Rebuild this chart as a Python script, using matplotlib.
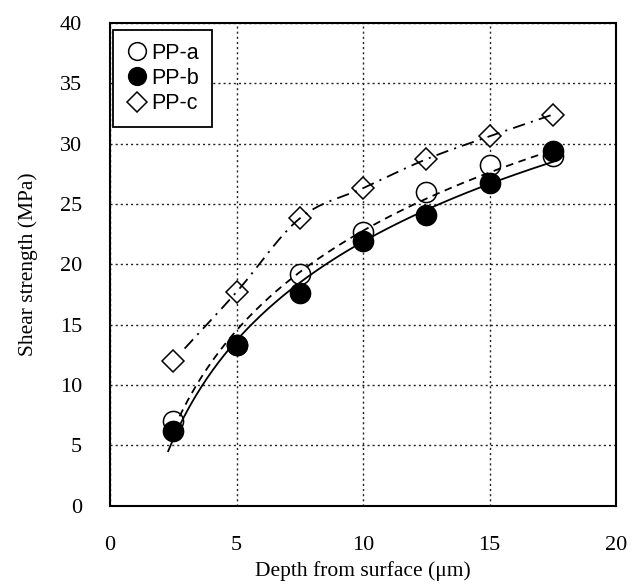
import numpy as np
import matplotlib
matplotlib.use('Agg')
import matplotlib.pyplot as plt

# depth (um) and shear strength (MPa)
depth = [2.5, 5, 7.5, 10, 12.5, 15, 17.5]
pp_a = [7.0, 13.3, 19.2, 22.7, 26.0, 28.2, 29.0]
pp_b = [6.2, 13.3, 17.6, 21.9, 24.1, 26.7, 29.4]
pp_c = [12.0, 17.7, 23.8, 26.3, 28.7, 30.6, 32.4]
names = ['PP-a', 'PP-b', 'PP-c']
fit_start = [2.75, 2.3, 2.9]

plt.rcParams['lines.scale_dashes'] = False


def smooth_line(xp, yp, n=40):
    # Catmull-Rom curve through the points (like a smoothed scatter line)
    p = np.column_stack([xp, yp]).astype(float)
    p = np.vstack([2 * p[0] - p[1], p, 2 * p[-1] - p[-2]])
    t = np.linspace(0, 1, n)[:, None]
    segs = []
    for i in range(1, len(p) - 2):
        p0, p1, p2, p3 = p[i - 1], p[i], p[i + 1], p[i + 2]
        segs.append(0.5 * (2 * p1 + (-p0 + p2) * t
                           + (2 * p0 - 5 * p1 + 4 * p2 - p3) * t ** 2
                           + (-p0 + 3 * p1 - 3 * p2 + p3) * t ** 3))
    c = np.vstack(segs)
    return c[:, 0], c[:, 1]


fig = plt.figure(figsize=(6.32, 5.84), dpi=100)
ax = fig.add_axes([0.174, 0.134, 0.801, 0.827])

serif = 'Liberation Serif'
sans = 'Liberation Sans'

styles = [
    dict(marker='o', mfc='white', ms=14.5, ls=(0, (5.5, 4))),
    dict(marker='o', mfc='black', ms=14.5, ls='-'),
    dict(marker='D', mfc='white', ms=11, ls=(0, (9, 4.5, 1.5, 4.5))),
]

x = np.array(depth)
for vals, name, st, x0 in zip([pp_a, pp_b, pp_c], names, styles, fit_start):
    y = np.array(vals)
    if name == 'PP-c':
        xs, ys = smooth_line(x, y)
        keep = xs >= x0
        xs, ys = xs[keep], ys[keep]
    else:
        # logarithmic trend
        a, b = np.polyfit(np.log(x), y, 1)
        xs = np.linspace(x0, 17.5, 200)
        ys = a * np.log(xs) + b
    ax.plot(xs, ys, color='black', lw=1.3, ls=st['ls'], zorder=4)
    ax.plot(depth, vals, ls='none', marker=st['marker'], mfc=st['mfc'],
            mec='black', mew=1.1, ms=st['ms'], label=name, zorder=3)

ax.set_xlim(0, 20)
ax.set_ylim(0, 40)
ax.set_xticks(range(0, 21, 5))
ax.set_yticks(range(0, 41, 5))
ax.grid(True, color='#222222', ls=(0, (1.5, 2.2)), lw=1.0)
ax.tick_params(length=0, labelsize=16)
ax.tick_params(axis='x', pad=22)
ax.tick_params(axis='y', pad=20)
for lab in ax.get_xticklabels() + ax.get_yticklabels():
    lab.set_family(serif)
for sp in ax.spines.values():
    sp.set_linewidth(1.5)

ax.set_xlabel('Depth from surface (\u03bcm)', family=serif, fontsize=15.5)
ax.set_ylabel('Shear strength (MPa)', family=serif, fontsize=15.5)
ax.xaxis.set_label_coords(0.5, -0.114)
ax.yaxis.set_label_coords(-0.142, 0.5)

leg = ax.legend(loc='upper left', bbox_to_anchor=(3 / 506, 1 - 7 / 483),
                borderaxespad=0, prop={'family': sans, 'size': 15.5},
                fancybox=False, edgecolor='black', framealpha=1,
                handlelength=1.0, handletextpad=0.2, borderpad=0.6,
                labelspacing=0.2, markerscale=0.88)
leg.get_frame().set_linewidth(1.3)
leg.set_zorder(5)

plt.savefig('out.png', dpi=100)
